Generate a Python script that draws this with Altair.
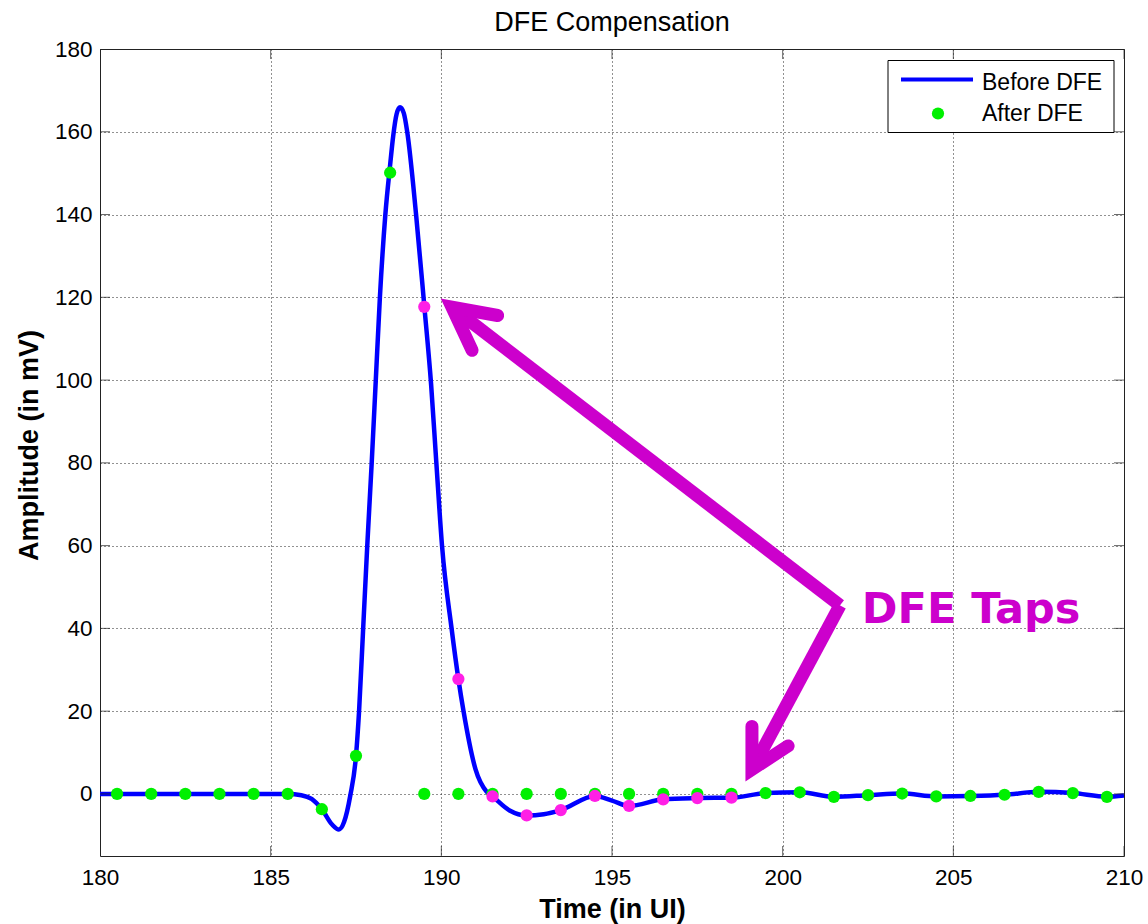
import altair as alt
import pandas as pd

# ---- data ----
curve_x = [180.0, 185.5, 185.9, 186.2, 186.5, 186.8, 187.0, 187.15, 187.33, 187.5, 187.59, 187.71,
           187.83, 187.96, 188.08, 188.2, 188.36, 188.5, 188.59, 188.69, 188.79, 188.9, 189.0,
           189.26, 189.5, 189.7, 189.85, 190.02, 190.3, 190.5, 190.65, 191.0, 191.33, 191.5,
           192.0, 192.5, 193.0, 193.5, 194.5, 195.0, 195.5, 196.5, 197.5, 198.5, 199.5, 200.5,
           201.5, 202.5, 203.5, 204.5, 205.5, 206.5, 207.5, 208.5, 209.5, 210.0]
curve_y = [0, 0, -0.3, -1.2, -3.7, -7.4, -8.6, -6.8, -0.5, 9.2, 20, 40,
           60, 80, 100, 120, 140, 152, 159, 164.3, 165.9, 164.5, 160,
           140, 118, 99, 80.5, 60, 40, 27.75, 20, 6.0, 0.5, -0.6,
           -4.0, -5.2, -4.9, -3.9, -0.5, -1.6, -2.9, -1.3, -1.0, -0.9, 0.2, 0.4,
           -0.7, -0.3, 0.1, -0.6, -0.5, -0.2, 0.5, 0.2, -0.7, -0.4]

after_x = [180.5 + i for i in range(30)]
after_y = [0, 0, 0, 0, 0, 0, -3.7, 9.2, 150.1,
           0, 0, 0, 0, 0, 0, 0, 0, 0, 0,
           0.2, 0.4, -0.7, -0.3, 0.1, -0.6, -0.5, -0.2, 0.5, 0.2, -0.7]

tap_x = [189.5, 190.5, 191.5, 192.5, 193.5, 194.5, 195.5, 196.5, 197.5, 198.5]
tap_y = [117.7, 27.75, -0.6, -5.2, -3.9, -0.5, -2.9, -1.3, -1.0, -0.9]

x_ticks = [180, 185, 190, 195, 200, 205, 210]
y_ticks = [0, 20, 40, 60, 80, 100, 120, 140, 160, 180]

series_names = ["Before DFE", "After DFE"]

# annotation arrows (data coordinates)
shaft_x = [201.68, 190.31, 201.68, 199.10]
shaft_y = [45.56, 117.6, 45.56, 5.92]
shaft_id = [1, 1, 2, 2]
head_x = [190.90, 190.31, 191.65, 199.10, 199.10, 200.16]
head_y = [107.2, 117.6, 115.6, 16.3, 5.92, 11.6]
head_id = [1, 1, 1, 2, 2, 2]
head_ord = [0, 1, 2, 0, 1, 2]
label_x, label_y, label_text = 202.32, 41.3, "DFE Taps"

W, H = 1024, 807
FONT = "Liberation Sans"
MAG = "#cc00cc"
BLUE = "#0000ff"
GREEN = "#00f000"
PINK = "#ff1fe6"

curve_df = pd.DataFrame({"x": curve_x, "y": curve_y})
after_df = pd.DataFrame({"x": after_x, "y": after_y})
tap_df = pd.DataFrame({"x": tap_x, "y": tap_y})
shaft_df = pd.DataFrame({"x": shaft_x, "y": shaft_y, "id": shaft_id, "o": [0, 1, 0, 1]})
head_df = pd.DataFrame({"x": head_x, "y": head_y, "id": head_id, "o": head_ord})
xt_df = pd.DataFrame({"v": x_ticks})
yt_df = pd.DataFrame({"v": y_ticks})
lab_df = pd.DataFrame({"x": [label_x], "y": [label_y], "t": [label_text]})
one = pd.DataFrame({"a": [0]})

xs = alt.Scale(domain=[180, 210], nice=False, zero=False)
ys = alt.Scale(domain=[-15, 180], nice=False, zero=False)

xaxis = alt.Axis(values=x_ticks, title="Time (in UI)", ticks=False, tickSize=0,
                 labelPadding=10, labelFontSize=22.5, labelFont=FONT, labelColor="#000",
                 labelFlush=False, labelOverlap=False,
                 titleFontSize=27, titleFont=FONT, titleFontWeight="bold", titleColor="#000",
                 titleX=W / 2, titleY=61, titleBaseline="alphabetic", titleAnchor="middle",
                 grid=True, gridDash=[1, 3], gridColor="#222", gridOpacity=1,
                 domain=False)
yaxis = alt.Axis(values=y_ticks, title="Amplitude (in mV)", ticks=False, tickSize=0,
                 labelPadding=8, labelFontSize=22.5, labelFont=FONT, labelColor="#000",
                 labelFlush=False, labelOverlap=False,
                 titleFontSize=27, titleFont=FONT, titleFontWeight="bold", titleColor="#000",
                 titleX=-63, titleY=396, titleBaseline="alphabetic", titleAnchor="middle",
                 titleAngle=270, grid=True, gridDash=[1, 3], gridColor="#222", gridOpacity=1,
                 domain=False)

line = alt.Chart(curve_df).mark_line(strokeWidth=4.5, interpolate="monotone", clip=True,
                                     color=BLUE).encode(
    x=alt.X("x:Q", scale=xs, axis=xaxis),
    y=alt.Y("y:Q", scale=ys, axis=yaxis),
)
after = alt.Chart(after_df).mark_point(filled=True, size=150, opacity=1, shape="circle",
                                       color=GREEN).encode(x="x:Q", y="y:Q")
taps = alt.Chart(tap_df).mark_point(filled=True, size=150, opacity=1, shape="circle",
                                    color=PINK).encode(x="x:Q", y="y:Q")

shafts = alt.Chart(shaft_df).mark_line(color=MAG, strokeWidth=13, strokeCap="butt").encode(
    x="x:Q", y="y:Q", detail="id:N", order="o:Q")
heads = alt.Chart(head_df).mark_line(color=MAG, strokeWidth=13, strokeCap="round",
                                     strokeJoin="miter").encode(
    x="x:Q", y="y:Q", detail="id:N", order="o:Q")
label = alt.Chart(lab_df).mark_text(color=MAG, font="DejaVu Sans", fontWeight="bold",
                                    fontSize=43, align="left", baseline="alphabetic").encode(
    x="x:Q", y="y:Q", text="t:N")

tick_col = "#222"
xt_bot = alt.Chart(xt_df).mark_tick(orient="vertical", size=20, thickness=1, color=tick_col,
                                    clip=True).encode(x="v:Q", y=alt.datum(-15))
xt_top = alt.Chart(xt_df).mark_tick(orient="vertical", size=20, thickness=1, color=tick_col,
                                    clip=True).encode(x="v:Q", y=alt.datum(180))
yt_left = alt.Chart(yt_df).mark_tick(orient="horizontal", size=20, thickness=1, color=tick_col,
                                     clip=True).encode(y="v:Q", x=alt.datum(180))
yt_right = alt.Chart(yt_df).mark_tick(orient="horizontal", size=20, thickness=1, color=tick_col,
                                      clip=True).encode(y="v:Q", x=alt.datum(210))

# legend box (pixel positions inside the plot area)
leg_box = alt.Chart(one).mark_rect(fill="white", stroke="#000", strokeWidth=1).encode(
    x=alt.value(788), x2=alt.value(1014), y=alt.value(11.5), y2=alt.value(83.5))
leg_line = alt.Chart(one).mark_rule(color=BLUE, strokeWidth=4).encode(
    x=alt.value(801), x2=alt.value(873), y=alt.value(30.5))
leg_dot = alt.Chart(one).mark_point(filled=True, size=150, opacity=1, shape="circle",
                                    color=GREEN).encode(x=alt.value(838), y=alt.value(64.5))
leg_t1 = alt.Chart(one).mark_text(font=FONT, fontSize=23, align="left", baseline="alphabetic",
                                  color="#000", text=series_names[0]).encode(
    x=alt.value(882), y=alt.value(40.5))
leg_t2 = alt.Chart(one).mark_text(font=FONT, fontSize=23, align="left", baseline="alphabetic",
                                  color="#000", text=series_names[1]).encode(
    x=alt.value(882), y=alt.value(72))

chart = alt.layer(
    line, after, taps, shafts, heads, label, xt_bot, xt_top, yt_left, yt_right,
    leg_box, leg_line, leg_dot, leg_t1, leg_t2
).properties(
    width=W, height=H,
    title=alt.TitleParams("DFE Compensation", font=FONT, fontSize=27, fontWeight="normal",
                          color="#000", anchor="middle", frame="group", offset=14, dy=13),
    autosize=alt.AutoSizeParams(type="none"),
    padding={"left": 100, "top": 49, "right": 24, "bottom": 68},
    background="white"
).configure_view(stroke="#222", strokeWidth=1)

chart.save("out.html", embed_options={"renderer": "svg", "actions": False})
